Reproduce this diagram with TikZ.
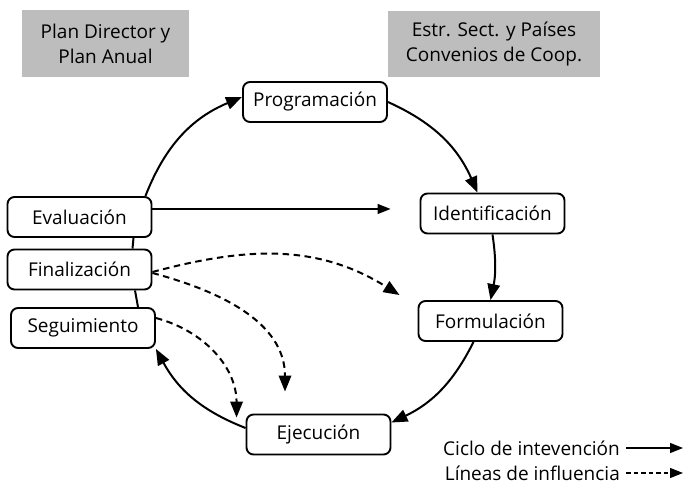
\documentclass[tikz,border=0pt]{standalone}
\usepackage{fontspec}
\setmainfont{Open Sans}
\usetikzlibrary{arrows.meta}

\begin{document}
\begin{tikzpicture}[x=1pt,y=1pt,
  box/.style={draw,line width=1.9pt,rounded corners=7pt,fill=white,minimum width=144pt,minimum height=40pt,font=\fontsize{19}{22}\selectfont},
  grey/.style={fill=black!26,align=center,inner sep=0pt,font=\fontsize{19}{25}\selectfont},
  legend/.style={anchor=east,inner sep=0pt,font=\fontsize{19}{22}\selectfont},
  cyc/.style={line width=2pt,-{Triangle[length=16pt,width=12.5pt]}},
  infl/.style={line width=2pt,dash pattern=on 6.5pt off 4.5pt,-{Triangle[length=16pt,width=12.5pt]}}]
\useasboundingbox (0,0) rectangle (685,487);
\node[grey,minimum width=167pt,minimum height=67pt] (plan) at (105.5,443.5) {Plan Director y\\Plan Anual};
\node[grey,minimum width=212pt,minimum height=66pt] (estr) at (494,443) {Estr. Sect. y Países\\Convenios de Coop.};
\node[box] (prog) at (315,385) {Programación};
\node[box] (ide) at (492.5,273.5) {Identificación};
\node[box] (form) at (490.5,166) {Formulación};
\node[box] (ejec) at (318.5,52.5) {Ejecución};
\node[box] (eva) at (79.5,270) {Evaluación};
\node[box] (fin) at (79.5,217.5) {Finalización};
\node[box] (seg) at (83,159) {Seguimiento};
\draw[cyc] ([xshift=-7pt]eva.north east) to[bend left=23] ([yshift=5pt]prog.west);
\draw[cyc] (prog.east) to[bend left=21] ([xshift=-15pt]ide.north);
\draw[cyc] (ide.south) to[bend left=10] (form.north);
\draw[cyc] ([xshift=-17pt]form.south) to[bend left=19] ([yshift=12pt]ejec.east);
\draw[cyc] ([yshift=6.5pt]ejec.west) to[bend left=20] (seg.south east);
\draw[line width=2pt] ([xshift=54pt]eva.south) -- ([xshift=53pt]fin.north);
\draw[line width=2pt] ([xshift=55.5pt]fin.south) -- ([xshift=55pt]seg.north);
\draw[line width=1.3pt,-{Triangle[length=13pt,width=10pt]}] ([yshift=8pt]eva.east) -- ([xshift=-29pt,yshift=4.5pt]ide.west);
\draw[infl] ([yshift=-2.5pt]fin.east) to[out=15,in=148] ([xshift=-18pt,yshift=5pt]form.north west);
\draw[infl] ([yshift=-3.5pt]fin.east) to[out=-15,in=90] ([xshift=-33.5pt,yshift=22pt]ejec.north);
\draw[infl] ([yshift=10pt]seg.east) to[out=-15,in=90] ([xshift=-9pt,yshift=-4pt]ejec.north west);
\node[legend] (ciclo) at (620,39) {Ciclo de intevención};
\node[legend] (lineas) at (620,14) {Líneas de influencia};
\coordinate (cicloend) at (683,39);
\coordinate (lineasend) at (683,14);
\draw[line width=1.3pt,-{Triangle[length=13pt,width=10pt]}] ([xshift=6pt]ciclo.east) -- (cicloend);
\draw[line width=1.3pt,dash pattern=on 4.5pt off 3pt,-{Triangle[length=13pt,width=10pt]}] ([xshift=6pt]lineas.east) -- (lineasend);
\end{tikzpicture}
\end{document}
